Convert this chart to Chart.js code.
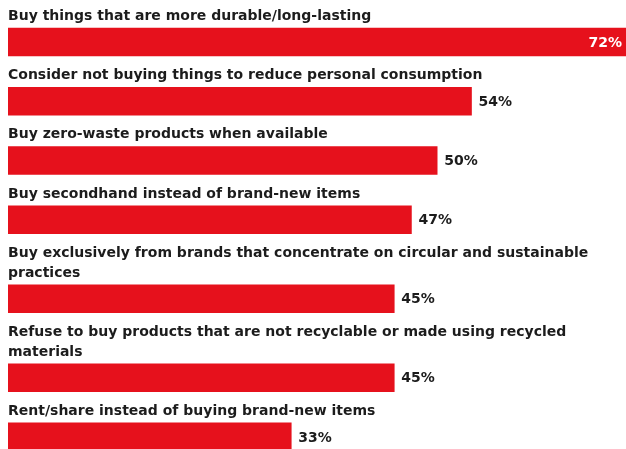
<!DOCTYPE html>
<html>
<head>
<meta charset="utf-8">
<script src="https://cdn.jsdelivr.net/npm/chart.js@4"></script>
<style>
  html, body { margin: 0; padding: 0; background: #fff; }
  #wrap { width: 626px; height: 449px; }
</style>
</head>
<body>
<div id="wrap"><canvas id="myChart"></canvas></div>
<script>
// each answer is split into the lines it wraps to in the original
const categories = [
    ['Buy things that are more durable/long-lasting'],
    ['Consider not buying things to reduce personal consumption'],
    ['Buy zero-waste products when available'],
    ['Buy secondhand instead of brand-new items'],
    ['Buy exclusively from brands that concentrate on circular and sustainable', 'practices'],
    ['Refuse to buy products that are not recyclable or made using recycled', 'materials'],
    ['Rent/share instead of buying brand-new items']
];
const shares = [72, 54, 50, 47, 45, 45, 33];

const RED = '#e6111c';
const INK = '#1c1c1c';
const FONT = '"DejaVu Sans", sans-serif';

// rows get taller when the label wraps: one unit per label line plus two for the bar
let pos = 0;
const rowCenters = categories.map(lines => {
    const c = pos + lines.length + 0.72;
    pos += lines.length + 2;
    return c;
});

const labelPlugin = {
    id: 'rowLabels',
    afterDatasetsDraw(chart) {
        const ctx = chart.ctx;
        const meta = chart.getDatasetMeta(0);
        ctx.save();
        meta.data.forEach((bar, i) => {
            const top = bar.y - bar.height / 2;
            const lines = categories[i];
            ctx.font = 'bold 14px ' + FONT;
            ctx.fillStyle = INK;
            ctx.textAlign = 'left';
            ctx.textBaseline = 'alphabetic';
            lines.forEach((line, j) => {
                const y = top - 8 - (lines.length - 1 - j) * 20;
                ctx.fillText(line, chart.chartArea.left, y);
            });

            ctx.font = 'bold 14px ' + FONT;
            ctx.textBaseline = 'middle';
            const txt = shares[i] + '%';
            if (bar.x + 45 > chart.width) {
                ctx.fillStyle = '#fff';
                ctx.textAlign = 'right';
                ctx.fillText(txt, bar.x - 4, bar.y + 1);
            } else {
                ctx.fillStyle = INK;
                ctx.textAlign = 'left';
                ctx.fillText(txt, bar.x + 7, bar.y + 1);
            }
        });
        ctx.restore();
    }
};

const ctx = document.getElementById('myChart').getContext('2d');
window.myChart = new Chart(ctx, {
    type: 'bar',
    data: {
        datasets: [{
            data: shares.map((v, i) => ({ x: v, y: rowCenters[i] })),
            backgroundColor: RED,
            borderWidth: 0,
            barThickness: 28
        }]
    },
    options: {
        indexAxis: 'y',
        responsive: true,
        maintainAspectRatio: false,
        animation: false,
        layout: { padding: { left: 8, top: 8, right: 0, bottom: 0 } },
        scales: {
            x: { type: 'linear', min: 0, max: 72, display: false, offset: false },
            y: { type: 'linear', min: 0, max: 22.33, reverse: true, display: false, offset: false, grace: 0 }
        },
        plugins: {
            legend: { display: false },
            tooltip: { enabled: false }
        }
    },
    plugins: [labelPlugin]
});
</script>
</body>
</html>
